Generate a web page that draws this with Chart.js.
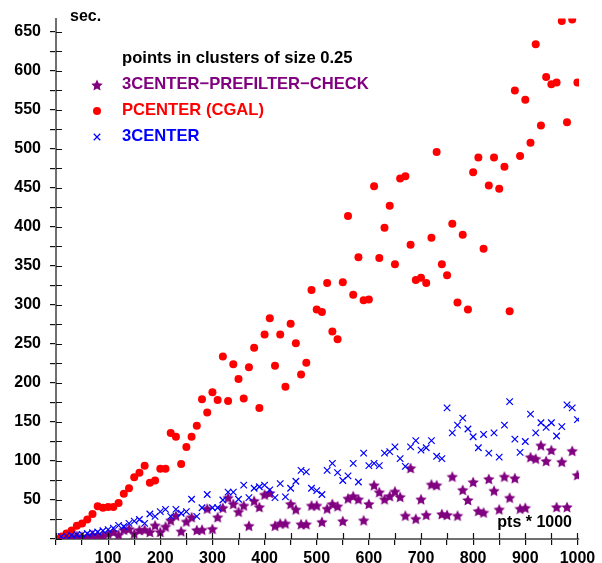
<!DOCTYPE html>
<html>
<head>
<meta charset="utf-8">
<script src="https://cdn.jsdelivr.net/npm/chart.js@4/dist/chart.umd.min.js"></script>
<style>
  html, body { margin: 0; padding: 0; background: #fff; }
  #wrap { width: 602px; height: 563px; }
</style>
</head>
<body>
<div id="wrap"><canvas id="clusterChart" width="602" height="563"></canvas></div>
<script>
// number of points (x 1000)
const pts = [10, 20, 30, 40, 50, 60, 70, 80, 90, 100,
  110, 120, 130, 140, 150, 160, 170, 180, 190, 200,
  210, 220, 230, 240, 250, 260, 270, 280, 290, 300,
  310, 320, 330, 340, 350, 360, 370, 380, 390, 400,
  410, 420, 430, 440, 450, 460, 470, 480, 490, 500,
  510, 520, 530, 540, 550, 560, 570, 580, 590, 600,
  610, 620, 630, 640, 650, 660, 670, 680, 690, 700,
  710, 720, 730, 740, 750, 760, 770, 780, 790, 800,
  810, 820, 830, 840, 850, 860, 870, 880, 890, 900,
  910, 920, 930, 940, 950, 960, 970, 980, 990, 1000];

// seconds
const prefilterCheck = [2, 2, 3, 4, 3, 3, 5, 5, 4, 7,
  9, 5.5, 12, 13, 7, 11.5, 12, 9, 17.5, 9,
  16, 24, 30, 10, 22.5, 28, 11.5, 12, 39, 13,
  28, 40, 53, 45, 35, 43, 17, 49, 41, 57,
  59, 17, 20, 20, 45, 38, 19, 19, 43, 43,
  22, 39, 45, 42, 23, 52, 55, 51, 24, 45,
  69, 60, 51, 55, 61, 54, 30, 91, 26, 51,
  31, 70, 69, 32, 31, 80, 30, 63, 50, 73,
  36, 34, 77, 62, 38, 80, 53, 78, 39, 40,
  105, 103, 120, 100, 114, 41, 99, 41, 113, 82];

const pcenter = [3, 7, 11, 17, 20, 25, 32, 42, 40, 41,
  41, 46, 58, 65, 79, 85, 94, 72, 75, 90,
  90, 136, 131, 96, 118, 131, 145, 179, 162, 188,
  178, 234, 177, 224, 205, 180, 220, 245, 168, 262,
  283, 222, 262, 195, 276, 251, 211, 226, 319, 294,
  291, 328, 266, 256, 329, 414, 313, 361, 306, 307,
  452, 360, 399, 427, 352, 462, 465, 377, 332, 335,
  328, 386, 496, 352, 338, 404, 303, 390, 294, 470,
  489, 372, 453, 489, 449, 477, 292, 575, 491, 563,
  508, 634, 530, 592, 583, 585, 664, 534, 666, 585];

const threeCenter = [3, 4, 5, 5.5, 6, 7, 8, 9, 10.6, 12,
  14, 17.5, 16, 20, 23, 25, 20, 32, 29, 35,
  38, 29, 38, 33, 35, 51, 29, 40, 57, 40,
  40, 50, 60, 60, 51, 69, 53, 65, 67, 69,
  63, 53, 71, 54, 65, 74, 88, 86, 65, 62,
  57, 88, 97, 85, 75, 81, 97, 73, 110, 94,
  97, 94, 110, 112, 118, 103, 93, 118, 126, 114,
  117, 126, 106, 103, 168, 136, 146, 155, 141, 131,
  117, 134, 110, 136, 105, 146, 176, 128, 111, 125,
  160, 136, 149, 143, 149, 132, 144, 172, 168, 153];

const seriesNames = ['3CENTER\u2212PREFILTER\u2212CHECK', 'PCENTER (CGAL)', '3CENTER'];
const legendTitle = 'points in clusters of size 0.25';

const PURPLE = '#800080', RED = '#ff0000', BLUE = '#0000ff';
const FONT = '"Liberation Sans", Arial, Helvetica, sans-serif';

// filled five point star, like gnuplot's
function makeStar(r, color) {
    const c = document.createElement('canvas');
    const s = Math.ceil(r * 2 + 2);
    c.width = c.height = s;
    const g = c.getContext('2d');
    g.beginPath();
    for (let i = 0; i < 10; i++) {
        const a = -Math.PI / 2 + i * Math.PI / 5;
        const rr = i % 2 ? r * 0.48 : r;
        g.lineTo(s / 2 + rr * Math.cos(a), s / 2 + 0.6 + rr * Math.sin(a));
    }
    g.closePath();
    g.fillStyle = color;
    g.fill();
    return c;
}
const star = makeStar(6, PURPLE);

const toPoints = vals => pts.map((x, i) => ({ x: x, y: vals[i] }));

const decorations = {
    id: 'decorations',
    afterDraw(chart) {
        const ctx = chart.ctx;
        const area = chart.chartArea;
        const xs = chart.scales.x, ys = chart.scales.y;
        ctx.save();
        // inner halves of the tick marks
        ctx.strokeStyle = '#111';
        ctx.lineWidth = 1.2;
        ctx.beginPath();
        ys.ticks.forEach(t => {
            const py = Math.round(ys.getPixelForValue(t.value)) + 0.5;
            ctx.moveTo(area.left, py);
            ctx.lineTo(area.left + 6, py);
        });
        xs.ticks.forEach(t => {
            const px = Math.round(xs.getPixelForValue(t.value)) + 0.5;
            ctx.moveTo(px, area.bottom);
            ctx.lineTo(px, area.bottom - 6);
        });
        ctx.stroke();

        // axis titles
        ctx.fillStyle = '#000';
        ctx.font = 'bold 16px ' + FONT;
        ctx.textBaseline = 'alphabetic';
        ctx.textAlign = 'left';
        ctx.fillText('sec.', 70, 21);
        ctx.textAlign = 'right';
        ctx.fillText('pts * 1000', 572, 527);

        // key
        ctx.font = 'bold 16.6px ' + FONT;
        ctx.textAlign = 'left';
        ctx.fillText(legendTitle, 122, 63);
        const colors = [PURPLE, RED, BLUE];
        const rows = [89, 115, 141];
        rows.forEach((by, i) => {
            ctx.fillStyle = colors[i];
            ctx.fillText(seriesNames[i], 122, by);
        });
        const mx = 97;
        ctx.drawImage(star, mx - star.width / 2, 85 - star.height / 2);
        ctx.fillStyle = RED;
        ctx.strokeStyle = RED;
        Chart.helpers.drawPoint(ctx, { pointStyle: 'circle', radius: 4, rotation: 0, borderWidth: 0 }, mx, 111);
        ctx.strokeStyle = BLUE;
        ctx.lineWidth = 1.2;
        Chart.helpers.drawPoint(ctx, { pointStyle: 'crossRot', radius: 4.6, rotation: 0, borderWidth: 1.2 }, mx, 137);
        ctx.restore();
    }
};

new Chart(document.getElementById('clusterChart'), {
    type: 'scatter',
    data: {
        datasets: [{
            label: seriesNames[0],
            data: toPoints(prefilterCheck),
            pointStyle: star,
            order: 3
        }, {
            label: seriesNames[1],
            data: toPoints(pcenter),
            pointStyle: 'circle',
            pointRadius: 4,
            backgroundColor: RED,
            borderColor: RED,
            borderWidth: 0,
            order: 2
        }, {
            label: seriesNames[2],
            data: toPoints(threeCenter),
            pointStyle: 'crossRot',
            pointRadius: 4.6,
            borderColor: BLUE,
            borderWidth: 1.2,
            order: 1
        }]
    },
    options: {
        responsive: false,
        animation: false,
        layout: { padding: { left: 0, top: 17, right: 23, bottom: 0 } },
        plugins: { legend: { display: false }, tooltip: { enabled: false } },
        elements: { point: { hoverRadius: 4 } },
        scales: {
            x: {
                type: 'linear', min: 0, max: 1003,
                afterFit: s => { s.height = 24; },
                border: { color: '#707070', width: 2 },
                grid: { drawOnChartArea: false, tickLength: 6, color: '#111', lineWidth: 1.2 },
                ticks: {
                    stepSize: 50, includeBounds: false, autoSkip: false, maxRotation: 0,
                    padding: 4, color: '#000',
                    font: { family: FONT, size: 16, weight: 'bold' },
                    callback: v => (v % 100 === 0 && v > 0) ? v : ''
                }
            },
            y: {
                type: 'linear', min: 0, max: 667,
                afterFit: s => { s.width = 56; },
                border: { color: '#707070', width: 2 },
                grid: { drawOnChartArea: false, tickLength: 6, color: '#111', lineWidth: 1.2 },
                ticks: {
                    stepSize: 25, includeBounds: false, autoSkip: false,
                    padding: 9, color: '#000',
                    font: { family: FONT, size: 16, weight: 'bold' },
                    callback: v => (v % 50 === 0 && v > 0) ? v : ''
                }
            }
        }
    },
    plugins: [decorations]
});
</script>
</body>
</html>
